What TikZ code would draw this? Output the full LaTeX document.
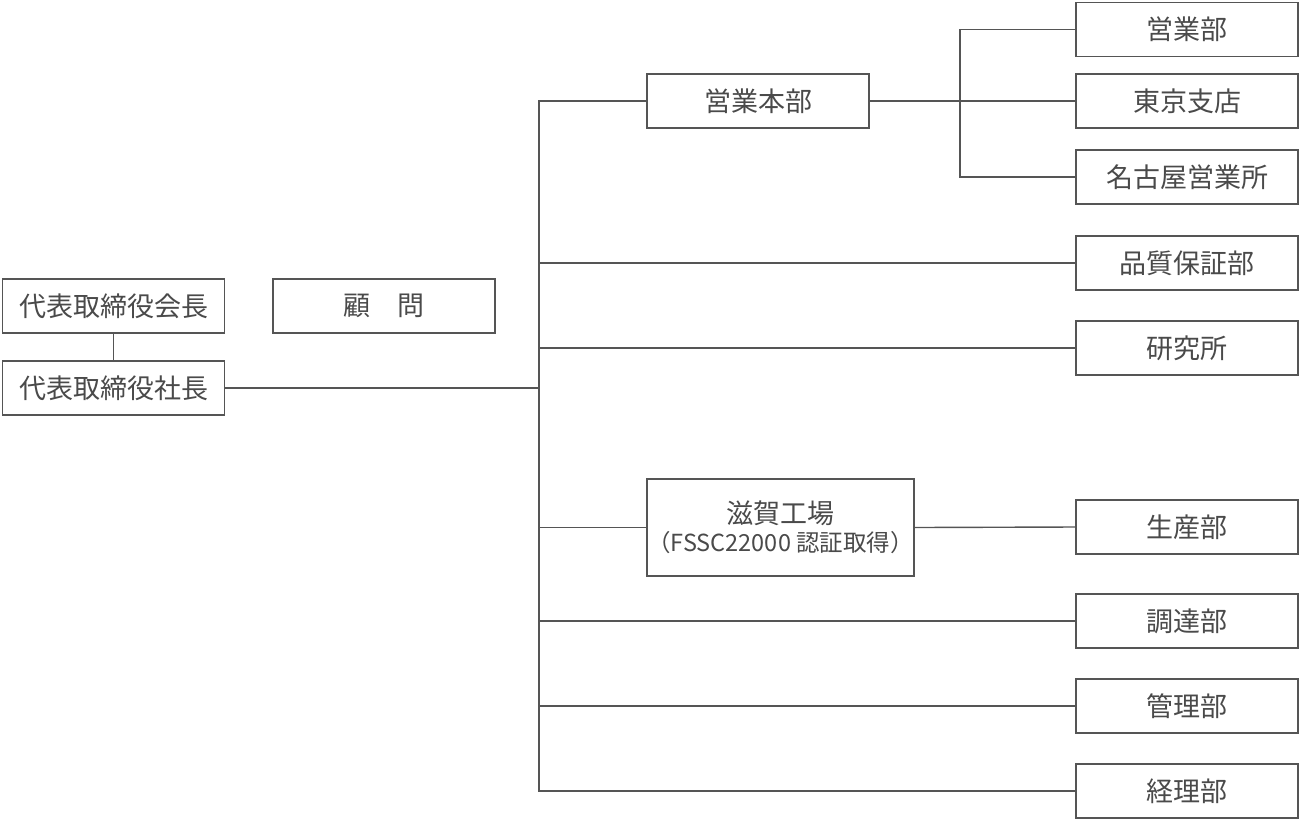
\documentclass[tikz,border=0pt]{standalone}
\usepackage{fontspec}
\setmainfont{Noto Sans CJK JP}
\definecolor{linegray}{HTML}{555555}
\definecolor{textgray}{HTML}{4a4a4a}
\begin{document}
\begin{tikzpicture}[x=1pt,y=-1pt,
  box/.style={draw=linegray,line width=1.4pt,fill=white,minimum width=222pt,minimum height=54pt,inner sep=0pt,text=textgray,font=\fontsize{27}{32}\selectfont},
  conn/.style={draw=linegray,line width=1.4pt}]
\useasboundingbox (0,0) rectangle (1300,820);
\node[box] (kaicho) at (113.5,306) {代表取締役会長};
\node[box] (shacho) at (113.5,388) {代表取締役社長};
\node[box] (komon) at (384,306) {顧　問};
\node[box] (honbu) at (758,101) {営業本部};
\node[box] (eigyo) at (1187,29.5) {営業部};
\node[box] (tokyo) at (1187,101) {東京支店};
\node[box] (nagoya) at (1187,177) {名古屋営業所};
\node[box] (hinshitsu) at (1187,263) {品質保証部};
\node[box] (kenkyu) at (1187,348) {研究所};
\node[box,minimum width=267pt,minimum height=97pt,align=center] (shiga) at (780.5,527.5) {滋賀工場\\[-4pt]{\fontsize{23.5}{28}\selectfont （FSSC22000 認証取得）}};
\node[box] (seisan) at (1187,527) {生産部};
\node[box] (chotatsu) at (1187,621) {調達部};
\node[box] (kanri) at (1187,706) {管理部};
\node[box] (keiri) at (1187,791) {経理部};
\coordinate (tt) at (539,101);
\coordinate (tb) at (539,791);
\coordinate (br) at (960,101);
\draw[conn] (kaicho) -- (shacho);
\draw[conn] (honbu.west) -- (tt) -- (tb) -- (keiri.west);
\draw[conn] (shacho.east) -- (shacho.east -| tt);
\draw[conn] (hinshitsu.west) -- (hinshitsu.west -| tt);
\draw[conn] (kenkyu.west) -- (kenkyu.west -| tt);
\draw[conn] (shiga.west) -- (shiga.west -| tt);
\draw[conn] (chotatsu.west) -- (chotatsu.west -| tt);
\draw[conn] (kanri.west) -- (kanri.west -| tt);
\draw[conn] (shiga.east) -- (seisan.west);
\draw[conn] (honbu.east) -- (tokyo.west);
\draw[conn] (eigyo.west) -| (br) |- (nagoya.west);
\end{tikzpicture}
\end{document}
